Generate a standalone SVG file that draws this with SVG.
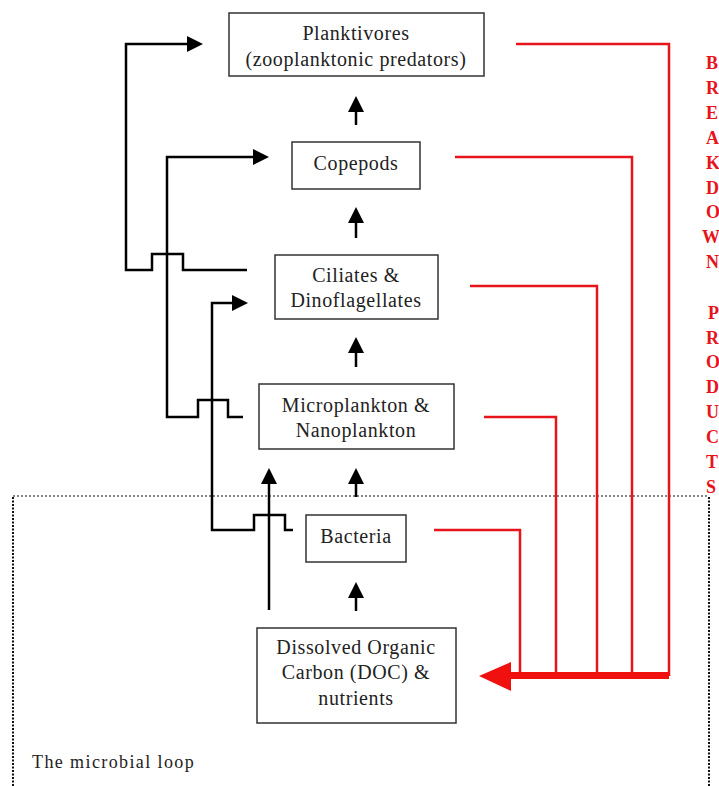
<svg xmlns="http://www.w3.org/2000/svg" width="719" height="786" viewBox="0 0 719 786">
<style>
.box{fill:#fff;stroke:#333;stroke-width:1.5}
.t{font-family:"Liberation Serif","Times New Roman",serif;font-size:20px;letter-spacing:0.6px;fill:#222;text-anchor:middle}
.blk{fill:none;stroke:#000;stroke-width:2.5}
.red{fill:none;stroke:#e8141b;stroke-width:2.5}
.rl{font-family:"Liberation Serif","Times New Roman",serif;font-size:18px;font-weight:bold;fill:#e8141b}
.dot{fill:none;stroke:#111;stroke-width:1.2;stroke-dasharray:2,2}
</style>
<defs>
<marker id="ah" viewBox="0 -8 16 16" refX="1" refY="0" markerWidth="16" markerHeight="16" markerUnits="userSpaceOnUse" orient="auto">
<path d="M0,-8 L16,0 L0,8 z" fill="#000"/>
</marker>
</defs>
<rect width="719" height="786" fill="#fff"/>
<g id="loop-border">
<path class="dot" d="M13,496 H709"/>
<path d="M13,497 V786 M709,497 V786" fill="none" stroke="#111" stroke-width="2" stroke-dasharray="2,1.5"/>
<text x="32" y="768" font-family="Liberation Serif, Times New Roman, serif" font-size="18" letter-spacing="1.4" fill="#222">The microbial loop</text>
</g>
<g id="connectors">
<path class="blk" d="M356,125 V111" marker-end="url(#ah)"/>
<path class="blk" d="M356,238 V222" marker-end="url(#ah)"/>
<path class="blk" d="M356,367 V352" marker-end="url(#ah)"/>
<path class="blk" d="M356,497 V483" marker-end="url(#ah)"/>
<path class="blk" d="M356,611 V597" marker-end="url(#ah)"/>
<path class="blk" d="M247,270 H183 V254 H152 V270 H126 V44 H188" marker-end="url(#ah)"/>
<path class="blk" d="M243,417 H228 V400 H198 V417 H167 V157 H254" marker-end="url(#ah)"/>
<path class="blk" d="M293,530 H285 V515 H254 V530 H212 V303 H233" marker-end="url(#ah)"/>
<path class="blk" d="M269,610 V483" marker-end="url(#ah)"/>
<path class="red" d="M516,44 H669 V676"/>
<path class="red" d="M455,157 H632 V676"/>
<path class="red" d="M470,286 H597 V676"/>
<path class="red" d="M484,417 H556 V676"/>
<path class="red" d="M434,530 H520 V676" stroke-width="1.8"/>
<path d="M507,675.5 H669" stroke="#f01010" stroke-width="7" fill="none"/>
<polygon points="479,676 511,662 511,691" fill="#f01010"/>
</g>
<g id="planktivores">
<rect class="box" x="229" y="13" width="255" height="63"/>
<text class="t" x="356" y="40">Planktivores</text>
<text class="t" x="356" y="66">(zooplanktonic predators)</text>
</g>
<g id="copepods">
<rect class="box" x="292" y="142" width="128" height="47"/>
<text class="t" x="356" y="170">Copepods</text>
</g>
<g id="ciliates">
<rect class="box" x="275" y="255" width="163" height="64"/>
<text class="t" x="356" y="282">Ciliates &amp;</text>
<text class="t" x="356" y="307">Dinoflagellates</text>
</g>
<g id="microplankton">
<rect class="box" x="259" y="384" width="195" height="65"/>
<text class="t" x="356" y="412">Microplankton &amp;</text>
<text class="t" x="356" y="437">Nanoplankton</text>
</g>
<g id="bacteria">
<rect class="box" x="306" y="515" width="100" height="47"/>
<text class="t" x="356" y="543">Bacteria</text>
</g>
<g id="doc">
<rect class="box" x="257" y="628" width="199" height="95"/>
<text class="t" x="356" y="654">Dissolved Organic</text>
<text class="t" x="356" y="679">Carbon (DOC) &amp;</text>
<text class="t" x="356" y="705">nutrients</text>
</g>
<g id="breakdown-products">
<text class="rl" x="706" y="69">B</text>
<text class="rl" x="706" y="94">R</text>
<text class="rl" x="706" y="119">E</text>
<text class="rl" x="706" y="144">A</text>
<text class="rl" x="706" y="169">K</text>
<text class="rl" x="706" y="194">D</text>
<text class="rl" x="706" y="218">O</text>
<text class="rl" x="702" y="243">W</text>
<text class="rl" x="706" y="268">N</text>
<text class="rl" x="708" y="319">P</text>
<text class="rl" x="706" y="344">R</text>
<text class="rl" x="706" y="368">O</text>
<text class="rl" x="706" y="393">D</text>
<text class="rl" x="706" y="418">U</text>
<text class="rl" x="706" y="443">C</text>
<text class="rl" x="706" y="468">T</text>
<text class="rl" x="706" y="493">S</text>
</g>
</svg>
